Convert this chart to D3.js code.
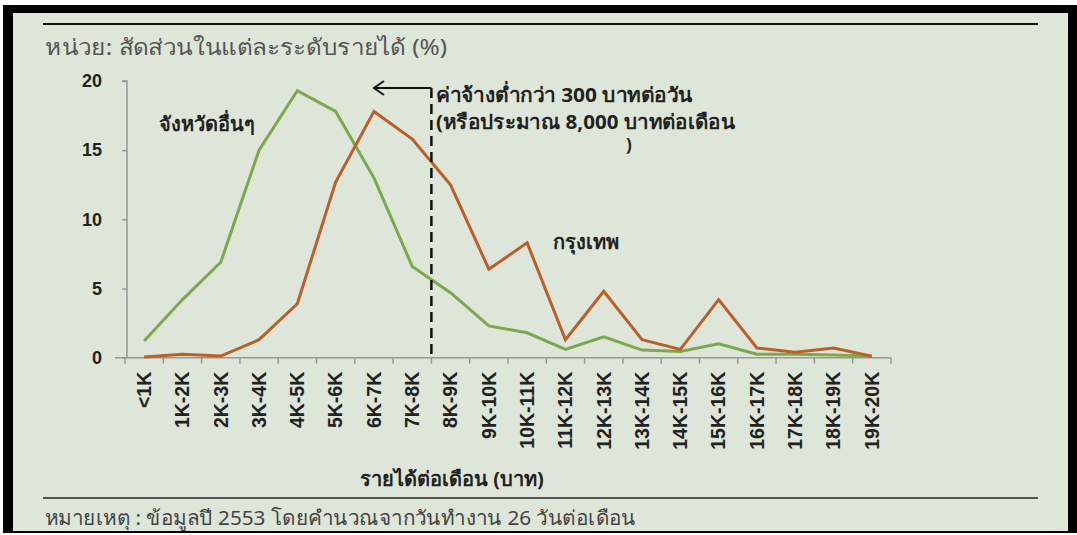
<!DOCTYPE html>
<html><head><meta charset="utf-8">
<script src="https://cdn.jsdelivr.net/npm/d3@7"></script>
<style>
html,body{margin:0;padding:0;background:#fff;}
svg{display:block;font-family:"Noto Sans","DejaVu Sans",sans-serif;}
</style></head><body>
<svg id="c" width="1077" height="535"></svg>
<script>
const categories = ["<1K","1K-2K","2K-3K","3K-4K","4K-5K","5K-6K","6K-7K","7K-8K","8K-9K","9K-10K","10K-11K","11K-12K","12K-13K","13K-14K","14K-15K","15K-16K","16K-17K","17K-18K","18K-19K","19K-20K"];
const otherProvinces = [1.2,4.2,6.9,15.0,19.3,17.8,13.0,6.6,4.7,2.3,1.8,0.6,1.5,0.55,0.45,1.0,0.25,0.25,0.2,0.1];
const bangkok = [0.05,0.25,0.12,1.3,3.9,12.7,17.8,15.8,12.5,6.4,8.3,1.3,4.8,1.3,0.6,4.2,0.7,0.4,0.7,0.1];
const yTicks = [0,5,10,15,20];

const svg = d3.select("#c");
// frame
svg.append("rect").attr("x",3).attr("y",5).attr("width",1074).attr("height",528).attr("fill","#000");
svg.append("rect").attr("x",13).attr("y",13).attr("width",1055).attr("height",518).attr("fill","#dee5d9");
svg.append("line").attr("x1",43).attr("x2",1038).attr("y1",24).attr("y2",24).attr("stroke","#111").attr("stroke-width",2);
svg.append("line").attr("x1",43).attr("x2",1038).attr("y1",498).attr("y2",498).attr("stroke","#222").attr("stroke-width",1.5);

svg.append("text").attr("x",45).attr("y",55).attr("font-size",22).attr("fill","#555")
  .attr("textLength",402).attr("lengthAdjust","spacingAndGlyphs")
  .text("หน่วย: สัดส่วนในแต่ละระดับรายได้ (%)");
svg.append("text").attr("x",45).attr("y",525).attr("font-size",20).attr("fill","#444")
  .attr("textLength",591).attr("lengthAdjust","spacingAndGlyphs")
  .text("หมายเหตุ : ข้อมูลปี 2553 โดยคำนวณจากวันทำงาน 26 วันต่อเดือน");

const x = d3.scaleBand().domain(categories).range([125,891]);
const y = d3.scaleLinear().domain([0,20]).range([357.7,81]);

// y axis
const ya = svg.append("g").attr("transform","translate(127,0)")
  .call(d3.axisLeft(y).tickValues(yTicks).tickSize(5).tickPadding(20));
ya.select(".domain").attr("stroke","#999").attr("stroke-width",1.5).attr("d","M-5,"+y(20)+"H0V"+y(0));
ya.selectAll(".tick line").attr("stroke","#999").attr("stroke-width",1.5);
ya.selectAll("text").attr("font-size",18).attr("font-weight","bold").attr("fill","#222").attr("font-family","Liberation Sans, Arial, sans-serif");

// x axis
const xa = svg.append("g").attr("transform","translate(0,"+y(0)+")")
  .call(d3.axisBottom(x).tickSize(0).tickPadding(0));
xa.select(".domain").attr("stroke","#999").attr("stroke-width",1.5).attr("d","M115,0H891");
const bounds = d3.range(categories.length+1).map(i => x.range()[0] + i*x.step());
xa.selectAll(".bnd").data(bounds).join("line").attr("class","bnd")
  .attr("x1",d=>d).attr("x2",d=>d).attr("y1",0).attr("y2",6).attr("stroke","#999").attr("stroke-width",1.5);
xa.selectAll(".tick text").attr("transform","translate(0,14) rotate(-90)")
  .attr("text-anchor","end").attr("dy","0.35em").attr("x",0).attr("y",0)
  .attr("font-size",19.5).attr("font-weight","bold").attr("fill","#222").attr("font-family","Liberation Sans, Arial, sans-serif");

const line = d3.line().x((d,i)=>x(categories[i])+x.bandwidth()/2).y(d=>y(d));
svg.append("path").datum(otherProvinces).attr("d",line).attr("fill","none").attr("stroke","#7ca84e").attr("stroke-width",3);
svg.append("path").datum(bangkok).attr("d",line).attr("fill","none").attr("stroke","#b9602b").attr("stroke-width",3);

// annotation
const dx = x("8K-9K");
svg.append("line").attr("x1",dx).attr("x2",dx).attr("y1",88).attr("y2",y(0)).attr("stroke","#111").attr("stroke-width",2.5).attr("stroke-dasharray","10,6");
svg.append("line").attr("x1",374).attr("x2",dx).attr("y1",88).attr("y2",88).attr("stroke","#111").attr("stroke-width",2);
svg.append("path").attr("d","M384,81L374,88L384,95").attr("fill","none").attr("stroke","#111").attr("stroke-width",2);

const note = svg.append("g").attr("font-size",20).attr("font-weight","bold").attr("fill","#222");
note.append("text").attr("x",436).attr("y",102).attr("textLength",257).attr("lengthAdjust","spacingAndGlyphs").text("ค่าจ้างต่ำกว่า 300 บาทต่อวัน");
note.append("text").attr("x",436).attr("y",129).attr("textLength",299).attr("lengthAdjust","spacingAndGlyphs").text("(หรือประมาณ 8,000 บาทต่อเดือน");
note.append("text").attr("x",626).attr("y",151).attr("font-size",17).text(")");
note.append("text").attr("x",159).attr("y",131).text("จังหวัดอื่นๆ");
note.append("text").attr("x",553).attr("y",249).text("กรุงเทพ");
note.append("text").attr("x",452).attr("y",486).attr("text-anchor","middle").text("รายได้ต่อเดือน (บาท)");
</script>
</body></html>
